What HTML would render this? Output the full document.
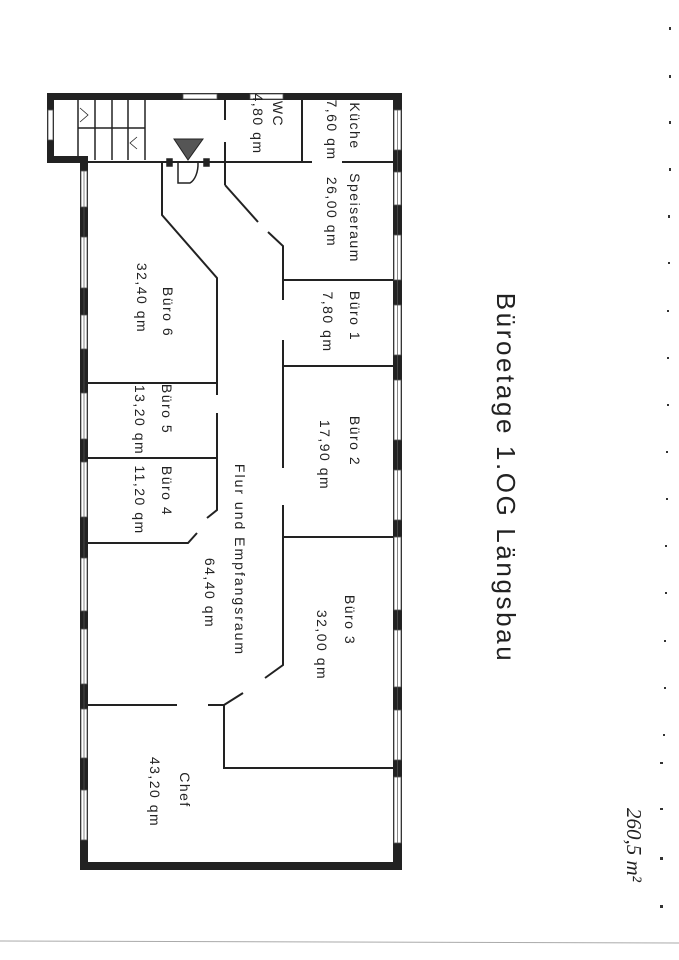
<!DOCTYPE html>
<html><head><meta charset="utf-8"><style>
html,body{margin:0;padding:0;background:#fff}
svg{display:block}
text{font-family:"Liberation Sans",sans-serif;fill:#222}
</style></head><body>
<svg width="679" height="960" viewBox="0 0 679 960" xmlns="http://www.w3.org/2000/svg">
<rect width="679" height="960" fill="#fff"/>
<g fill="#222">
<rect x="47" y="93" width="355" height="7"/>
<rect x="47" y="93" width="7" height="70"/>
<rect x="47" y="156" width="41" height="7"/>
<rect x="80" y="156" width="8" height="714"/>
<rect x="393" y="93" width="9" height="777"/>
<rect x="80" y="862" width="322" height="8"/>
</g>
<g fill="#fff" stroke="#555" stroke-width="0.8">
<rect x="81" y="171" width="6" height="36"/><rect x="81" y="237" width="6" height="51"/>
<rect x="81" y="315" width="6" height="34"/><rect x="81" y="393" width="6" height="46"/>
<rect x="81" y="462" width="6" height="55"/><rect x="81" y="558" width="6" height="53"/>
<rect x="81" y="629" width="6" height="55"/><rect x="81" y="709" width="6" height="49"/>
<rect x="81" y="790" width="6" height="50"/>
<rect x="394" y="110" width="7" height="40"/><rect x="394" y="172" width="7" height="33"/>
<rect x="394" y="235" width="7" height="45"/><rect x="394" y="305" width="7" height="50"/>
<rect x="394" y="380" width="7" height="60"/><rect x="394" y="470" width="7" height="50"/>
<rect x="394" y="537" width="7" height="73"/><rect x="394" y="630" width="7" height="57"/>
<rect x="394" y="710" width="7" height="50"/><rect x="394" y="777" width="7" height="66"/>
<rect x="183" y="94" width="34" height="5"/><rect x="250" y="94" width="33" height="5"/>
<rect x="48" y="110" width="5" height="30"/>
</g>
<g stroke="#555" stroke-width="0.7">
<line x1="84" y1="171" x2="84" y2="840"/>
<line x1="397.5" y1="110" x2="397.5" y2="843"/>
</g>
<g stroke="#222" stroke-width="1.5" fill="none">
<line x1="78" y1="100" x2="78" y2="160"/>
<line x1="95" y1="100" x2="95" y2="160"/>
<line x1="112" y1="100" x2="112" y2="160"/>
<line x1="128" y1="100" x2="128" y2="160"/>
<line x1="145" y1="100" x2="145" y2="160"/>
<line x1="78" y1="128" x2="145" y2="128"/>
<polyline points="80,108 88,115 80,122" stroke-width="0.8"/>
<polyline points="137,137 130,143 137,149" stroke-width="0.8"/>
</g>
<g stroke="#222" stroke-width="2" fill="none">
<line x1="88" y1="162" x2="312" y2="162"/>
<line x1="342" y1="162" x2="393" y2="162"/>
<line x1="225" y1="100" x2="225" y2="120"/>
<line x1="225" y1="142" x2="225" y2="185"/>
<line x1="302" y1="100" x2="302" y2="162"/>
<polyline points="162,162 162,215 217,278 217,383"/>
<line x1="88" y1="383" x2="217" y2="383"/>
<line x1="217" y1="383" x2="217" y2="395"/>
<polyline points="217,413 217,510 207,518"/>
<line x1="88" y1="458" x2="217" y2="458"/>
<polyline points="88,543 188,543 197,533"/>
<line x1="225" y1="185" x2="258" y2="222"/>
<polyline points="268,232 283,246 283,300"/>
<line x1="283" y1="340" x2="283" y2="468"/>
<polyline points="283,505 283,665 265,678"/>
<line x1="283" y1="280" x2="393" y2="280"/>
<line x1="283" y1="366" x2="393" y2="366"/>
<line x1="283" y1="537" x2="393" y2="537"/>
<line x1="88" y1="705" x2="177" y2="705"/>
<polyline points="208,705 224,705 243,693"/>
<polyline points="224,705 224,768 393,768"/>
</g>
<g stroke="#222" stroke-width="1.5" fill="none">
<path d="M178,162 L178,183 L190,183 A12,20 0 0 0 198,163"/>
<rect x="167" y="159" width="5" height="7" fill="#222"/>
<rect x="204" y="159" width="5" height="7" fill="#222"/>
</g>
<polygon points="174,139 203,139 188,160" fill="#555" stroke="#222" stroke-width="1"/>
<g font-size="14" letter-spacing="1.5" text-anchor="middle" dominant-baseline="central">
<text transform="translate(355,126) rotate(90)">Küche</text>
<text transform="translate(332,130) rotate(90)">7,60 qm</text>
<text transform="translate(278,114) rotate(90)">WC</text>
<text transform="translate(258,124) rotate(90)">4,80 qm</text>
<text transform="translate(355,218) rotate(90)">Speiseraum</text>
<text transform="translate(332,212) rotate(90)">26,00 qm</text>
<text transform="translate(355,316) rotate(90)">Büro 1</text>
<text transform="translate(328,322) rotate(90)">7,80 qm</text>
<text transform="translate(355,441) rotate(90)">Büro 2</text>
<text transform="translate(325,455) rotate(90)">17,90 qm</text>
<text transform="translate(350,620) rotate(90)">Büro 3</text>
<text transform="translate(322,645) rotate(90)">32,00 qm</text>
<text transform="translate(185,790) rotate(90)">Chef</text>
<text transform="translate(155,792) rotate(90)">43,20 qm</text>
<text transform="translate(168,312) rotate(90)">Büro 6</text>
<text transform="translate(142,298) rotate(90)">32,40 qm</text>
<text transform="translate(167,409) rotate(90)">Büro 5</text>
<text transform="translate(140,420) rotate(90)">13,20 qm</text>
<text transform="translate(167,491) rotate(90)">Büro 4</text>
<text transform="translate(140,500) rotate(90)">11,20 qm</text>
<text transform="translate(240,560) rotate(90)" letter-spacing="2">Flur und Empfangsraum</text>
<text transform="translate(210,593) rotate(90)">64,40 qm</text>
</g>
<text transform="translate(506,478) rotate(90)" font-size="26" letter-spacing="2.6" text-anchor="middle" dominant-baseline="central">Büroetage 1.OG Längsbau</text>
<text transform="translate(634,845) rotate(90)" font-size="21" font-style="italic" text-anchor="middle" dominant-baseline="central" style="font-family:'Liberation Serif',serif">260,5 m²</text>
<g fill="#333">
<rect x="669" y="27" width="2" height="3"/><rect x="669" y="75" width="2" height="3"/>
<rect x="669" y="121" width="2" height="3"/><rect x="669" y="168" width="2" height="3"/>
<rect x="668" y="215" width="2" height="3"/><rect x="668" y="262" width="2" height="2"/>
<rect x="667" y="310" width="2" height="2"/><rect x="667" y="357" width="2" height="2"/>
<rect x="667" y="404" width="2" height="2"/><rect x="666" y="451" width="2" height="2"/>
<rect x="666" y="498" width="2" height="2"/><rect x="665" y="545" width="2" height="2"/>
<rect x="665" y="592" width="2" height="2"/><rect x="664" y="640" width="2" height="2"/>
<rect x="664" y="687" width="2" height="2"/><rect x="663" y="734" width="2" height="2"/>
<rect x="660" y="762" width="3" height="2"/><rect x="660" y="808" width="3" height="2"/>
<rect x="660" y="857" width="3" height="3"/><rect x="660" y="905" width="3" height="3"/>
</g>
<line x1="0" y1="941" x2="679" y2="943" stroke="#aaa" stroke-width="1"/>
</svg>
</body></html>
